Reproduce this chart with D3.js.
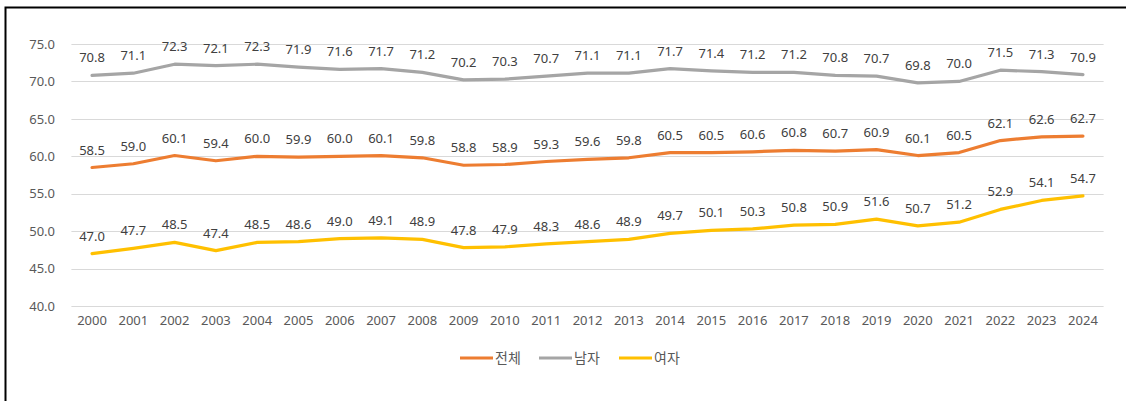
<!DOCTYPE html>
<html><head><meta charset="utf-8">
<script src="https://cdn.jsdelivr.net/npm/d3@7"></script>
<style>
html,body{margin:0;padding:0;background:#fff;}
svg{display:block;}
text{font-family:"Noto Sans CJK KR","Noto Sans",sans-serif;}
</style></head>
<body>
<script>
const years = ["2000","2001","2002","2003","2004","2005","2006","2007","2008","2009","2010","2011","2012","2013","2014","2015","2016","2017","2018","2019","2020","2021","2022","2023","2024"];
const total = [58.5,59.0,60.1,59.4,60.0,59.9,60.0,60.1,59.8,58.8,58.9,59.3,59.6,59.8,60.5,60.5,60.6,60.8,60.7,60.9,60.1,60.5,62.1,62.6,62.7];
const male = [70.8,71.1,72.3,72.1,72.3,71.9,71.6,71.7,71.2,70.2,70.3,70.7,71.1,71.1,71.7,71.4,71.2,71.2,70.8,70.7,69.8,70.0,71.5,71.3,70.9];
const female = [47.0,47.7,48.5,47.4,48.5,48.6,49.0,49.1,48.9,47.8,47.9,48.3,48.6,48.9,49.7,50.1,50.3,50.8,50.9,51.6,50.7,51.2,52.9,54.1,54.7];
const seriesNames = ["전체","남자","여자"];
const yTicks = [40,45,50,55,60,65,70,75];

const colors = ["#ED7D31","#A5A5A5","#FFC000"];
const series = [total, male, female];

const W = 1126, H = 401;
const svg = d3.select("body").append("svg").attr("width", W).attr("height", H);

// frame
svg.append("rect").attr("x",5.5).attr("y",7.5).attr("width",W+10).attr("height",H+10)
  .attr("fill","none").attr("stroke","#000").attr("stroke-width",2);

const x = d3.scaleBand().domain(years).range([71.4, 1103.6]);
const y = d3.scaleLinear().domain([40,75]).range([306,44]);

// gridlines
svg.append("g").selectAll("line").data(yTicks).join("line")
  .attr("x1", x.range()[0]).attr("x2", x.range()[1])
  .attr("y1", d=>Math.round(y(d))+0.5).attr("y2", d=>Math.round(y(d))+0.5)
  .attr("stroke","#D9D9D9").attr("stroke-width",1);

// y axis labels
const yAxis = d3.axisLeft(y).tickValues(yTicks).tickFormat(d3.format(".1f")).tickSize(0).tickPadding(0);
const gy = svg.append("g").attr("transform","translate(55,0)").call(yAxis);
gy.select(".domain").remove();
gy.selectAll("text").attr("fill","#595959").style("font-size","13px").style("font-family","'Noto Sans',sans-serif");

// x axis labels
const xAxis = d3.axisBottom(x).tickSize(0).tickPadding(0);
const gx = svg.append("g").attr("transform","translate(0,316)").call(xAxis);
gx.select(".domain").remove();
gx.selectAll("text").attr("fill","#595959").style("font-size","13px").style("font-family","'Noto Sans',sans-serif");

const cx = d => x(d) + x.bandwidth()/2;
const line = d3.line().x((d,i)=>cx(years[i])).y(d=>y(d));

series.forEach((s,k)=>{
  svg.append("path").datum(s).attr("d", line)
    .attr("fill","none").attr("stroke",colors[k]).attr("stroke-width",3.2)
    .attr("stroke-linejoin","round").attr("stroke-linecap","round");
});

series.forEach((s,k)=>{
  svg.append("g").selectAll("text").data(s).join("text")
    .attr("x",(d,i)=>cx(years[i])).attr("y",d=>y(d)-13)
    .attr("text-anchor","middle").attr("fill","#404040")
    .style("font-size","13px").style("font-family","'Noto Sans',sans-serif")
    .text(d=>d.toFixed(1));
});

// legend
const legX = [460, 539, 619];
const lg = svg.append("g");
seriesNames.forEach((n,k)=>{
  lg.append("line").attr("x1",legX[k]).attr("x2",legX[k]+33).attr("y1",358).attr("y2",358)
    .attr("stroke",colors[k]).attr("stroke-width",3);
  lg.append("text").attr("x",legX[k]+35).attr("y",363).attr("fill","#595959")
    .style("font-size","14px").text(n);
});
</script>
</body></html>
